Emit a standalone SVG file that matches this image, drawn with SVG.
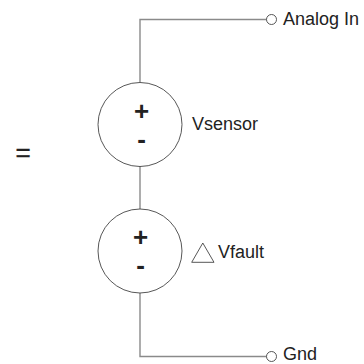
<svg xmlns="http://www.w3.org/2000/svg" width="364" height="364" viewBox="0 0 364 364">
<style>
text{font-family:"Liberation Sans",Arial,sans-serif;fill:#222}
.w{fill:none;stroke:#8a8a8a;stroke-width:1.4}
.s{fill:#fff;stroke:#444;stroke-width:.9}
.l{font-size:18px}
.b{font-size:26px;font-weight:bold;text-anchor:middle}
</style>
<rect width="364" height="364" fill="#fff"/>
<g id="connectors">
<path class="w" d="M140 82V19.500H267"/>
<path class="w" d="M140 166V209"/>
<path class="w" d="M140 293V356.500H267"/>
</g>
<g id="analog-in"><circle class="s" cx="271.500" cy="19.500" r="5"/><text class="l" x="283" y="25">Analog In</text></g>
<g id="gnd"><circle class="s" cx="271.500" cy="356.500" r="5"/><text class="l" x="283" y="360">Gnd</text></g>
<g id="vsensor"><circle class="s" cx="140" cy="124.500" r="42"/>
<text class="b" x="141.500" y="119.500">+</text><text class="b" x="141.500" y="148">-</text>
<text class="l" x="192" y="130">Vsensor</text></g>
<g id="vfault"><circle class="s" cx="140" cy="251" r="42"/>
<text class="b" x="140.500" y="246">+</text><text class="b" x="140.500" y="274">-</text>
<path class="s" d="M202.800 243L214 262.300H191.700Z"/>
<text class="l" x="218" y="258">Vfault</text></g>
<text id="equals" x="23" y="161" font-size="26" stroke="#222" stroke-width=".4" text-anchor="middle">=</text>
</svg>
